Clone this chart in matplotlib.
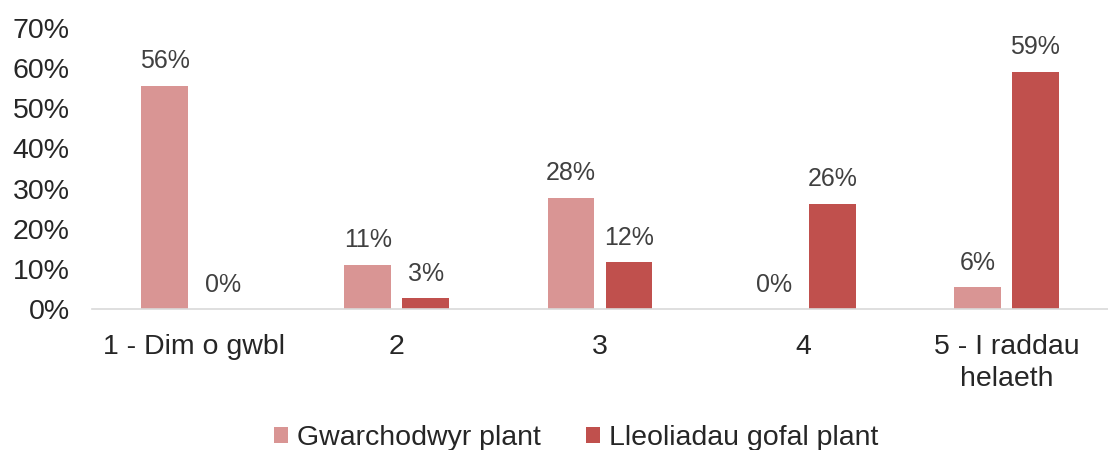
import numpy as np
import matplotlib.pyplot as plt
from matplotlib.ticker import PercentFormatter

plt.rcParams['font.family'] = ['Liberation Sans', 'DejaVu Sans']

categories = ["1 - Dim o gwbl", "2", "3", "4", "5 - I raddau\nhelaeth"]
gwarchodwyr = [55.6, 11.0, 27.7, 0.0, 5.5]
lleoliadau = [0.0, 2.7, 11.7, 26.2, 59.1]
series_names = ["Gwarchodwyr plant", "Lleoliadau gofal plant"]
colors = ["#D99594", "#C0504D"]

fig = plt.figure(figsize=(11.08, 4.5), dpi=100)
ax = fig.add_axes([0.083, 0.313, 0.917, 0.625])

x = np.arange(len(categories))
w = 0.23
off = 0.143
b1 = ax.bar(x - off, gwarchodwyr, w, color=colors[0], label=series_names[0])
b2 = ax.bar(x + off, lleoliadau, w, color=colors[1], label=series_names[1])

for bars, vals in [(b1, gwarchodwyr), (b2, lleoliadau)]:
    for rect, v in zip(bars, vals):
        ax.annotate(f"{round(v):.0f}%", (rect.get_x() + rect.get_width() / 2, v),
                    xytext=(0, 9), textcoords="offset points",
                    ha="center", va="bottom", fontsize=18, color="#404040")

ax.set_xlim(-0.5, len(categories) - 0.5)
ax.set_ylim(0, 70)
ax.set_yticks(np.arange(0, 71, 10))
ax.yaxis.set_major_formatter(PercentFormatter(decimals=0))
ax.set_xticks(x)
ax.set_xticklabels(categories, linespacing=1.3)
ax.tick_params(axis="both", length=0, labelsize=20.5, colors="#262626")
ax.tick_params(axis="x", pad=18)
ax.tick_params(axis="y", pad=16)

for s in ["top", "right", "left"]:
    ax.spines[s].set_visible(False)
ax.spines["bottom"].set_color("#D9D9D9")
ax.spines["bottom"].set_linewidth(1.2)

fig.legend(loc="lower center", bbox_to_anchor=(0.52, -0.06), ncol=2, frameon=False,
           fontsize=20.5, handlelength=0.5, handleheight=0.5, handletextpad=0.3,
           columnspacing=1.6, labelcolor="#262626")

fig.savefig("out.png", dpi=100)
